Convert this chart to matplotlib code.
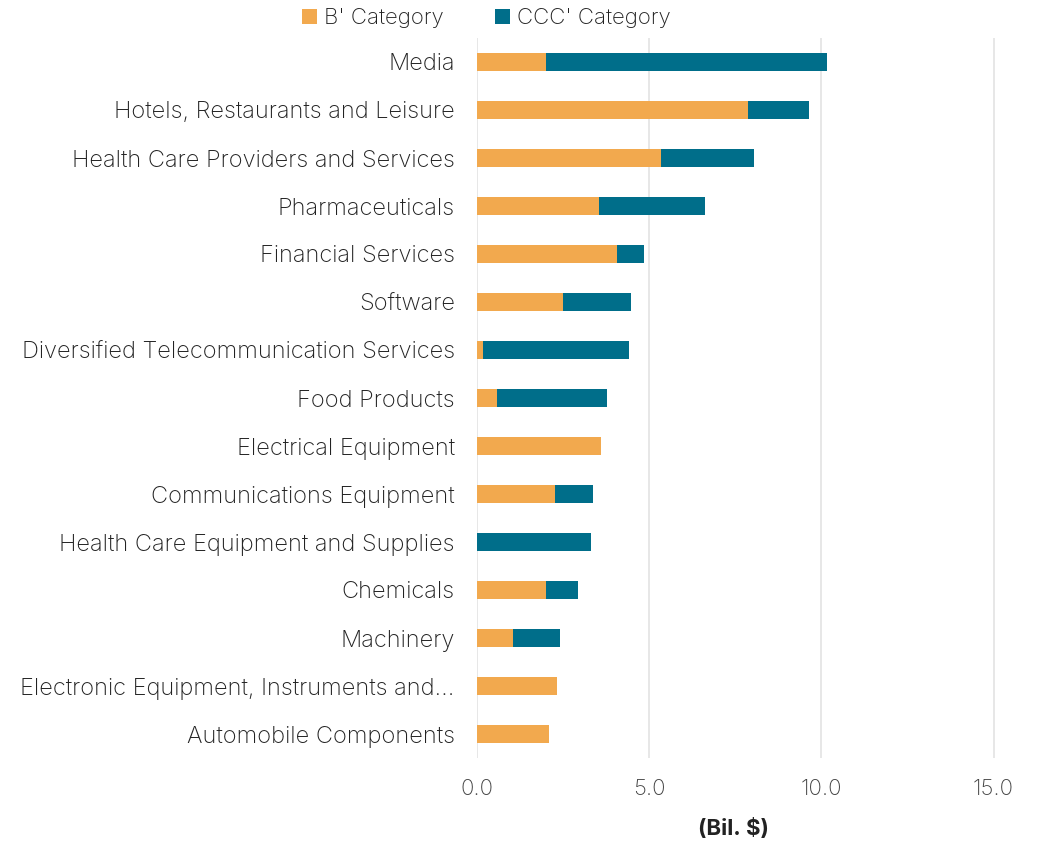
import matplotlib.pyplot as plt
import numpy as np

plt.rcParams['font.family'] = ['Inter', 'DejaVu Sans']

categories = [
    'Media',
    'Hotels, Restaurants and Leisure',
    'Health Care Providers and Services',
    'Pharmaceuticals',
    'Financial Services',
    'Software',
    'Diversified Telecommunication Services',
    'Food Products',
    'Electrical Equipment',
    'Communications Equipment',
    'Health Care Equipment and Supplies',
    'Chemicals',
    'Machinery',
    'Electronic Equipment, Instruments and...',
    'Automobile Components',
]
b_values = [2.0, 7.88, 5.35, 3.55, 4.07, 2.5, 0.17, 0.58, 3.6, 2.27, 0.0, 2.0, 1.05, 2.33, 2.09]
ccc_values = [8.15, 1.77, 2.7, 3.08, 0.78, 1.98, 4.25, 3.2, 0.0, 1.1, 3.31, 0.94, 1.36, 0.0, 0.0]

b_color = '#F2A94E'
ccc_color = '#006E8A'

fig = plt.figure(figsize=(10.43, 8.43), dpi=100)
ax = fig.add_axes([477 / 1043, 1 - 758 / 843, (1040 - 477) / 1043, (758 - 38) / 843])

y = np.arange(len(categories))
ax.barh(y, b_values, height=0.38, color=b_color, label="B' Category", zorder=3)
ax.barh(y, ccc_values, left=b_values, height=0.38, color=ccc_color,
        label="CCC' Category", zorder=3)

ax.set_yticks(y)
ax.set_yticklabels(categories, fontsize=17, color='#222222', fontweight='light')
ax.set_ylim(len(categories) - 0.5, -0.5)
ax.set_xlim(0, 16.35)
ax.set_xticks([0, 5, 10, 15])
ax.set_xticklabels(['0.0', '5.0', '10.0', '15.0'], fontsize=16, color='#444444',
                   fontweight='light')
ax.tick_params(axis='both', length=0)
ax.tick_params(axis='y', pad=16)
ax.tick_params(axis='x', pad=15)
fig.text(733 / 1043, 1 - 828 / 843, '(Bil. $)', fontsize=16, fontweight='bold',
         color='#222222', ha='center', va='center')

ax.grid(axis='x', color='#E3E3E3', linewidth=1.2, zorder=0)
for s in ax.spines.values():
    s.set_visible(False)

fig.legend(loc='upper center', bbox_to_anchor=(0.466, 1.014), ncol=2, frameon=False,
           handlelength=0.7, handleheight=0.7, handletextpad=0.3,
           columnspacing=2.3, labelcolor='#222222', prop={'weight': 'light', 'size': 16})

fig.savefig('out.png', dpi=100)
